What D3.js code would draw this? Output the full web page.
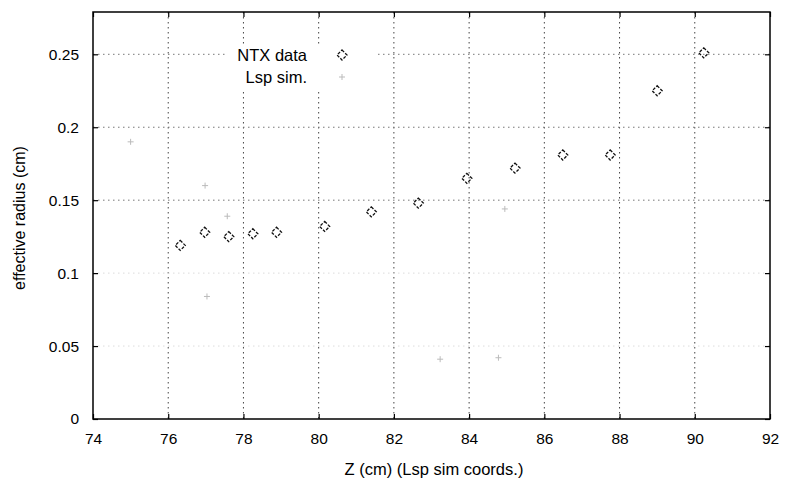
<!doctype html>
<html>
<head>
    <meta charset="utf-8">
    <title>effective radius vs Z</title>
    <style>
        body { margin: 0; background: #fff; }
        svg text { font-family: "Liberation Sans", Arial, sans-serif; fill: #000; }
        .grid line { stroke-dasharray: 1.5,3.5; }
    </style>
</head>
<body>
<svg width="785" height="486"></svg>
<script src="https://d3js.org/d3.v7.min.js"></script>
<script>
    // NTX measurements (diamonds)
    let ntxZ = [76.32, 76.97, 77.61, 78.25, 78.88, 80.16, 81.40, 82.65, 83.94, 85.22, 86.49, 87.75, 89.00, 90.24];
    let ntxR = [0.119, 0.128, 0.125, 0.127, 0.128, 0.132, 0.142, 0.148, 0.165, 0.172, 0.181, 0.181, 0.225, 0.251];

    // Lsp simulation points (faint plus marks)
    let lspZ = [75.00, 76.98, 77.03, 77.57, 83.23, 84.78, 84.95];
    let lspR = [0.190, 0.160, 0.084, 0.139, 0.041, 0.042, 0.144];

    let xTicks = [74, 76, 78, 80, 82, 84, 86, 88, 90, 92];
    let yTicks = [0, 0.05, 0.1, 0.15, 0.2, 0.25];
    let yTickLabels = ["0", "0.05", "0.1", "0.15", "0.2", "0.25"];

    let svg = d3.select("svg");
    let mLeft = 93, mRight = 770, mTop = 12, mBottom = 419;

    let x = d3.scaleLinear().domain([74, 92]).range([mLeft, mRight]);
    let y = d3.scaleLinear().domain([0, 0.279]).range([mBottom, mTop]);

    // grid
    let grid = svg.append("g").attr("class", "grid");
    grid.selectAll("line.v")
        .data(xTicks.slice(1, -1))
        .enter().append("line")
        .attr("class", "v")
        .attr("x1", d => x(d)).attr("x2", d => x(d))
        .attr("y1", mTop).attr("y2", mBottom)
        .attr("stroke", "#444").attr("stroke-width", 1);
    grid.selectAll("line.h")
        .data(yTicks.slice(1))
        .enter().append("line")
        .attr("class", "h")
        .attr("x1", mLeft).attr("x2", mRight)
        .attr("y1", d => y(d)).attr("y2", d => y(d))
        .attr("stroke", d => d >= 0.15 ? "#777" : "#dcdcdc").attr("stroke-width", 1);

    // legend box blanks grid behind it
    svg.append("rect")
        .attr("x", 228).attr("y", 46).attr("width", 149).attr("height", 43)
        .attr("fill", "#fff");

    // axes (ticks inward, mirrored)
    let bottomAxis = d3.axisBottom(x).tickValues(xTicks).tickSize(-5).tickPadding(14);
    let topAxis = d3.axisTop(x).tickValues(xTicks).tickSize(-5).tickFormat("");
    let leftAxis = d3.axisLeft(y).tickValues(yTicks).tickSize(-5).tickPadding(14)
        .tickFormat((d, i) => yTickLabels[i]);
    let rightAxis = d3.axisRight(y).tickValues(yTicks).tickSize(-5).tickFormat("");

    function styleAxis(g) {
        g.select(".domain").remove();
        g.selectAll(".tick line").attr("stroke", "#000").attr("stroke-width", 1.2);
        g.selectAll(".tick text").attr("font-size", 15.5);
    }

    svg.append("g").attr("transform", "translate(0," + mBottom + ")").call(bottomAxis).call(styleAxis);
    svg.append("g").attr("transform", "translate(0," + mTop + ")").call(topAxis).call(styleAxis);
    svg.append("g").attr("transform", "translate(" + mLeft + ",0)").call(leftAxis).call(styleAxis);
    svg.append("g").attr("transform", "translate(" + mRight + ",0)").call(rightAxis).call(styleAxis);

    svg.append("rect")
        .attr("x", mLeft).attr("y", mTop).attr("width", mRight - mLeft).attr("height", mBottom - mTop)
        .attr("fill", "none").attr("stroke", "#000").attr("stroke-width", 1.5);

    // Lsp sim plus marks
    let crossPath = function(cx, cy) {
        let s = 3;
        return "M" + (cx - s) + "," + cy + "H" + (cx + s) + "M" + cx + "," + (cy - s) + "V" + (cy + s);
    };
    svg.append("g").selectAll("path")
        .data(lspZ)
        .enter().append("path")
        .attr("d", (d, i) => crossPath(x(d), y(lspR[i])))
        .attr("stroke", "#bbb").attr("stroke-width", 1).attr("fill", "none");

    // NTX diamonds
    let diamond = function(cx, cy) {
        let s = 5;
        return "M" + cx + "," + (cy - s) + "L" + (cx + s) + "," + cy + "L" + cx + "," + (cy + s) + "L" + (cx - s) + "," + cy + "Z";
    };
    svg.append("g").selectAll("path")
        .data(ntxZ)
        .enter().append("path")
        .attr("d", (d, i) => diamond(x(d), y(ntxR[i])))
        .attr("stroke", "#111").attr("stroke-width", 1.3).attr("fill", "none")
        .attr("stroke-dasharray", "3,1.5");

    // legend
    let legend = svg.append("g");
    legend.append("text").attr("x", 307).attr("y", 61).attr("text-anchor", "end")
        .attr("font-size", 16.5).text("NTX data");
    legend.append("text").attr("x", 307).attr("y", 83).attr("text-anchor", "end")
        .attr("font-size", 16.5).text("Lsp sim.");
    legend.append("path").attr("d", diamond(342, 55))
        .attr("stroke", "#111").attr("stroke-width", 1.3).attr("fill", "none")
        .attr("stroke-dasharray", "3,1.5");
    legend.append("path").attr("d", crossPath(342, 77))
        .attr("stroke", "#bbb").attr("stroke-width", 1).attr("fill", "none");

    // axis titles
    svg.append("text")
        .attr("x", 434).attr("y", 475).attr("text-anchor", "middle")
        .attr("font-size", 16.5).text("Z (cm) (Lsp sim coords.)");
    svg.append("text")
        .attr("transform", "translate(25,218) rotate(-90)")
        .attr("text-anchor", "middle")
        .attr("font-size", 16).text("effective radius (cm)");
</script>
</body>
</html>
